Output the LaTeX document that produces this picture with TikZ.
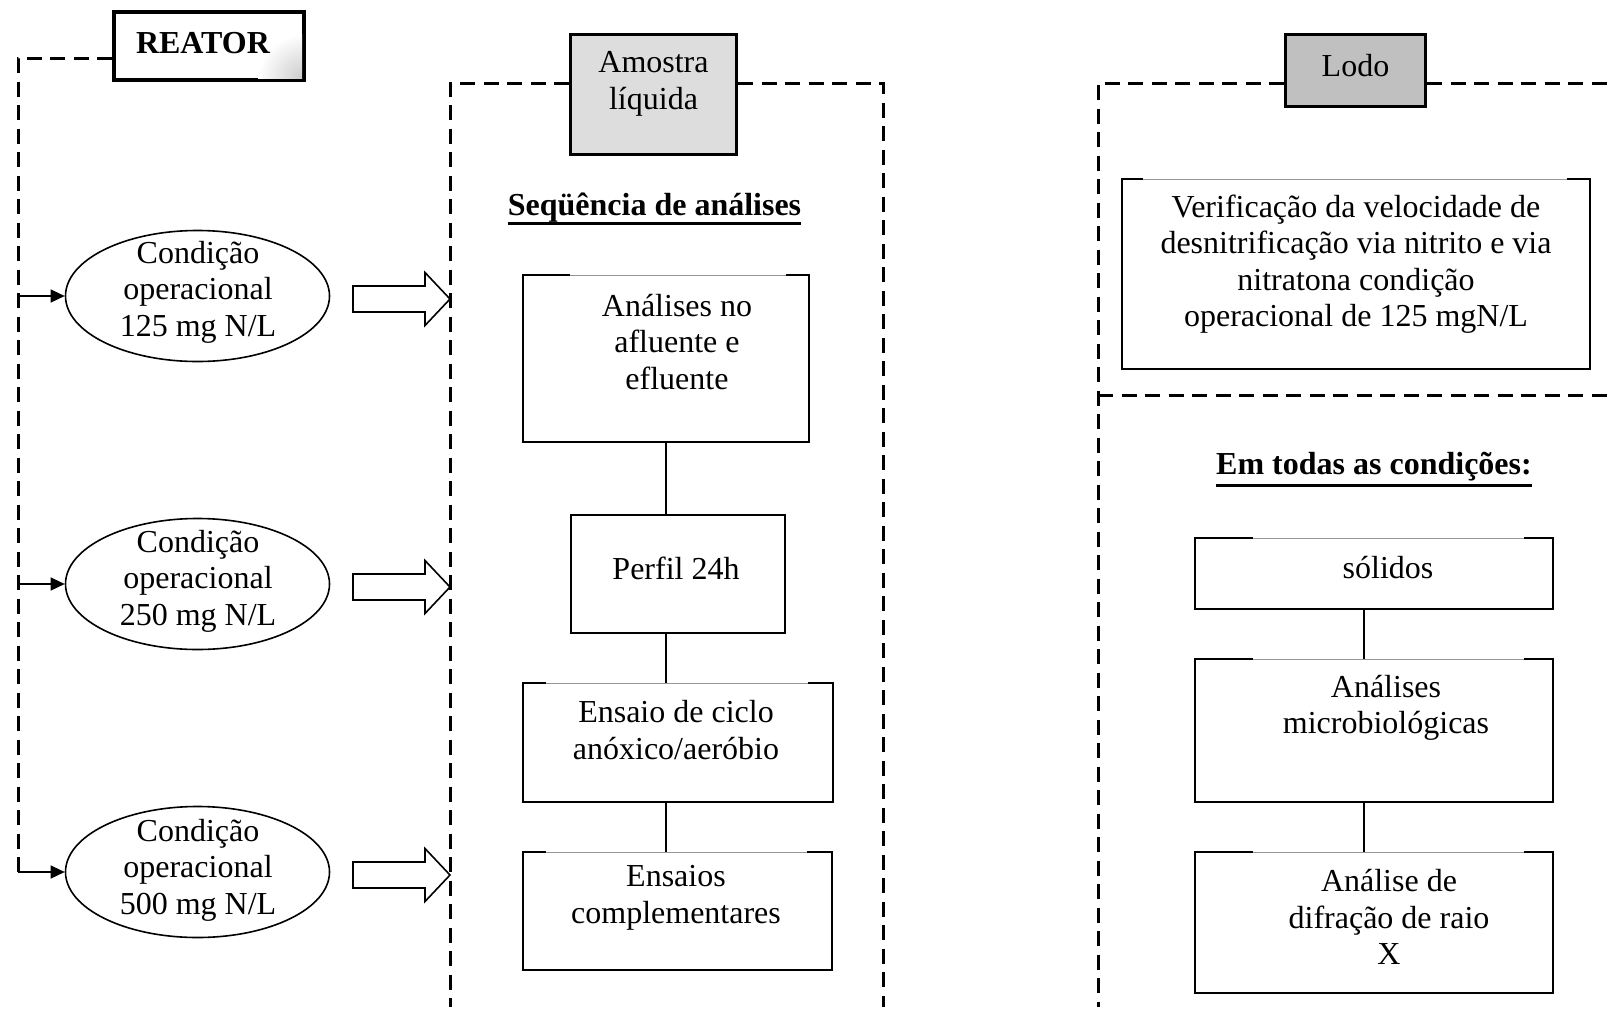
\documentclass[tikz,border=0pt]{standalone}
\usepackage{fontspec}
\setmainfont{Liberation Serif}
\usetikzlibrary{shapes.geometric,arrows.meta,calc}
\newcommand\fs{\fontsize{32}{36.5}\selectfont}
\definecolor{lightfill}{RGB}{221,221,221}
\definecolor{darkfill}{RGB}{192,192,192}
\definecolor{thintop}{RGB}{150,150,150}
\tikzset{
  dashline/.style={line width=3pt, dash pattern=on 15pt off 8.5pt},
  boxline/.style={line width=2pt, line join=miter},
  thinline/.style={line width=1pt, draw=thintop},
  txt/.style={font=\fs, align=center, inner sep=0pt},
  headtxt/.style={font=\fs\bfseries, inner sep=0pt, anchor=base},
  conn/.style={line width=2pt},
  arr/.style={line width=1.3pt, -{Triangle[length=14pt,width=13pt]}},
  cond/.style={ellipse, draw, line width=1.6pt, minimum width=264pt, minimum height=131pt, inner sep=0pt},
  blk/.style={line width=1.6pt, line join=miter},
}
% name, x1, y1, x2, y2, left thick end, right thick start
\newcommand\splitbox[7]{%
  \node[inner sep=0pt, minimum width={(#4)-(#2)}, minimum height={(#5)-(#3)}] (#1) at ({((#2)+(#4))/2},{((#3)+(#5))/2}) {};
  \draw[boxline] (#6,#3) -- (#2,#3) -- (#2,#5) -- (#4,#5) -- (#4,#3) -- (#7,#3);
  \draw[thinline] (#6,#3) -- (#7,#3);
}
\newcommand\blockarrow[1]{%
  \draw[blk] (353,{#1-13}) -- (425,{#1-13}) -- (425,{#1-26.5}) -- (450,#1) -- (425,{#1+26.5}) -- (425,{#1+13}) -- (353,{#1+13}) -- cycle;
}
\begin{document}
\begin{tikzpicture}[x=1pt,y=-1pt]
\useasboundingbox (0,0) rectangle (1614,1015);

% ---------- left column: REATOR ----------
\node[draw, line width=4pt, fill=white, minimum width=190pt, minimum height=68pt, inner sep=0pt] (reator) at (209,46) {};
\begin{scope}
  \clip (116,14) rectangle (302,78);
  \shade[inner color=gray!40, outer color=white] (302,78) circle (44);
\end{scope}
\node[font=\fs\bfseries, inner sep=0pt] (reatorT) at (203,43) {REATOR};

\coordinate (ltl) at (18,58);
\coordinate (l3) at (18,872);
\draw[dashline] (reator.west |- ltl) -- (ltl) -- (l3);

\node[cond] (e1) at (197.5,296) {};
\node[cond] (e2) at (197.5,584) {};
\node[cond] (e3) at (197.5,872) {};
\node[txt] (e1t) at (198,292) {Condição\\operacional\\125 mg N/L};
\node[txt] (e2t) at (198,581) {Condição\\operacional\\250 mg N/L};
\node[txt] (e3t) at (198,870) {Condição\\operacional\\500 mg N/L};

\draw[arr] (ltl |- e1.west) -- (e1.west);
\draw[arr] (ltl |- e2.west) -- (e2.west);
\draw[arr] (l3) -- (e3.west);

\blockarrow{299}
\blockarrow{587}
\blockarrow{875}

% ---------- middle column ----------
\node[draw, line width=3pt, fill=lightfill, minimum width=166pt, minimum height=120pt, inner sep=0pt] (amostra) at (653.5,94.5) {};
\node[txt] (amostraT) at (653.5,84) {Amostra\\líquida};

\coordinate (mtl) at (450,83);
\coordinate (mbl) at (450,1007);
\coordinate (mtr) at (883,83);
\coordinate (mbr) at (883,1007);
\draw[dashline] (amostra.west |- mtl) -- (mtl) -- (mbl);
\draw[dashline] (amostra.east |- mtr) -- (mtr) -- (mbr);

\node[headtxt] (h1) at (654.5,215) {Seqüência de análises};
\draw[line width=3pt] ([yshift=-8pt]h1.base west) -- ([yshift=-8pt]h1.base east);

\splitbox{b1}{523}{275}{809}{442}{570}{786}
\node[boxline, draw, minimum width=214pt, minimum height=118pt, inner sep=0pt] (b2) at (678,574) {};
\splitbox{b3}{523}{683}{833}{802}{546}{808}
\splitbox{b4}{523}{852}{832}{970}{546}{807}

\node[txt] (b1t) at (677,342) {Análises no\\afluente e\\efluente};
\node[txt] (b2t) at (676,568) {Perfil 24h};
\node[txt] (b3t) at (676,730) {Ensaio de ciclo\\anóxico/aeróbio};
\node[txt] (b4t) at (676,898) {Ensaios\\complementares};

\coordinate (mc) at (666,0);
\draw[conn] (mc |- b1.south) -- (mc |- b2.north);
\draw[conn] (mc |- b2.south) -- (mc |- b3.north);
\draw[conn] (mc |- b3.south) -- (mc |- b4.north);

% ---------- right column ----------
\node[draw, line width=3pt, fill=darkfill, minimum width=140pt, minimum height=72pt, inner sep=0pt] (lodo) at (1355.5,70.5) {};
\node[txt] (lodoT) at (1355.5,66) {Lodo};

\coordinate (rtl) at (1098,83);
\coordinate (rbl) at (1098,1007);
\coordinate (rtr) at (1614,83);
\coordinate (rml) at (1098,395);
\coordinate (rmr) at (1614,395);
\draw[dashline] (lodo.west |- rtl) -- (rtl) -- (rbl);
\draw[dashline] (lodo.east |- rtr) -- (rtr);
\draw[dashline] (rml) -- (rmr);

\splitbox{r1}{1122}{179}{1590}{369}{1143}{1567}
\node[txt] (r1t) at (1356,264) {Verificação da velocidade de\\desnitrificação via nitrito e via\\nitratona condição\\operacional de 125 mgN/L};

\node[headtxt] (h2) at (1374,474) {Em todas as condições:};
\draw[line width=3pt] ([yshift=-11pt]h2.base west) -- ([yshift=-11pt]h2.base east);

\splitbox{r2}{1195}{538}{1553}{609}{1253}{1524}
\splitbox{r3}{1195}{659}{1553}{802}{1253}{1524}
\splitbox{r4}{1195}{852}{1553}{993}{1253}{1524}

\node[txt] (r2t) at (1388,568) {sólidos};
\node[txt] (r3t) at (1386,708) {Análises\\microbiológicas};
\node[txt] (r4t) at (1389,917) {Análise de\\difração de raio\\X};

\coordinate (rc) at (1364,0);
\draw[conn] (rc |- r2.south) -- (rc |- r3.north);
\draw[conn] (rc |- r3.south) -- (rc |- r4.north);
\end{tikzpicture}
\end{document}
